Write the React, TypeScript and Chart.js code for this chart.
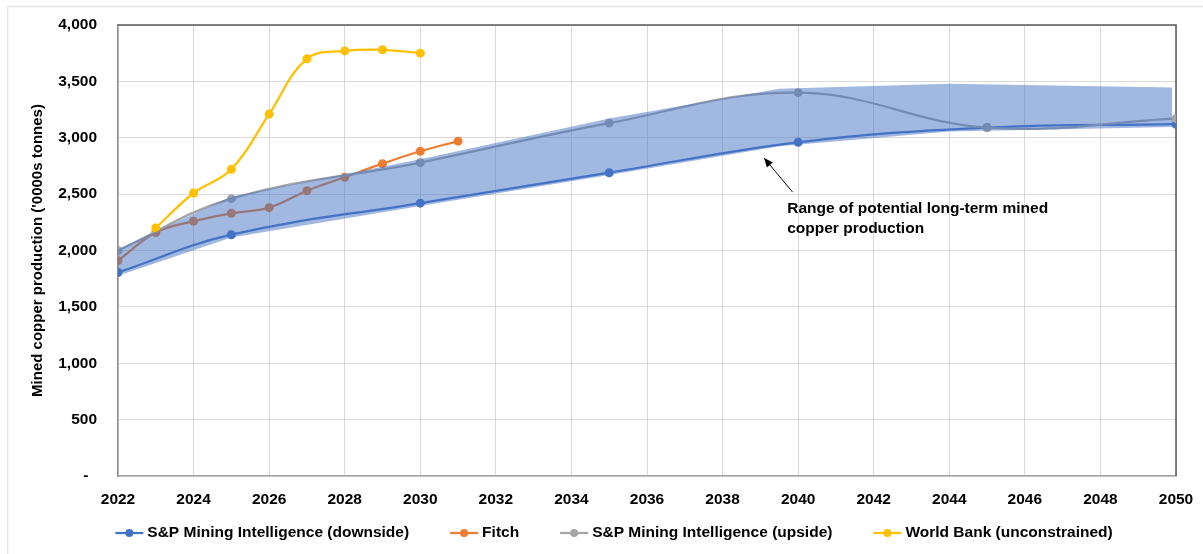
import React, { useEffect, useRef } from "react";
import { Chart, registerables } from "chart.js";

Chart.register(...registerables);

// ---- data ----
const downsideYears = [2022, 2025, 2030, 2035, 2040, 2045, 2050];
const downsideValues = [1805, 2140, 2420, 2690, 2960, 3090, 3120];

const fitchYears = [2022, 2023, 2024, 2025, 2026, 2027, 2028, 2029, 2030, 2031];
const fitchValues = [1910, 2160, 2260, 2330, 2380, 2530, 2650, 2770, 2880, 2970];

const upsideYears = [2022, 2025, 2030, 2035, 2040, 2045, 2050];
const upsideValues = [2000, 2460, 2780, 3130, 3400, 3090, 3170];

const worldBankYears = [2023, 2024, 2025, 2026, 2027, 2028, 2029, 2030];
const worldBankValues = [2200, 2510, 2720, 3210, 3700, 3770, 3780, 3750];

const bandYears = [2022, 2025, 2030, 2035, 2039.5, 2044, 2049.9];
const bandUpperValues = [2010, 2480, 2810, 3170, 3435, 3480, 3445];
const bandLowerValues = [1775, 2115, 2395, 2670, 2925, 3055, 3095];

const seriesLabels = [
  "S&P Mining Intelligence (downside)",
  "Fitch",
  "S&P Mining Intelligence (upside)",
  "World Bank (unconstrained)",
];
const seriesColors = ["#4472C4", "#ED7D31", "#A5A5A5", "#FFC000"];

const yAxisTitle = "Mined copper production ('0000s tonnes)";
const annotationLines = ["Range of potential long-term mined", "copper production"];
const annotationArrowTip = { x: 2039.1, y: 2820 };
const annotationArrowTail = { x: 2039.85, y: 2519 };
const annotationTextAnchor = { x: 2039.71, y1: 2368, y2: 2191 };

const FONT = '"Liberation Sans", Arial, sans-serif';

const pts = (xs: number[], ys: number[]) => xs.map((x, i) => ({ x, y: ys[i] }));

export default function App() {
  const ref = useRef<HTMLCanvasElement | null>(null);

  useEffect(() => {
    if (!ref.current) return;

    const framePlugin = {
      id: "frame",
      beforeDraw(chart: any) {
        const ctx = chart.ctx;
        ctx.save();
        ctx.fillStyle = "#ffffff";
        ctx.fillRect(0, 0, chart.width, chart.height);
        ctx.strokeStyle = "#E8E8E8";
        ctx.lineWidth = 1.5;
        ctx.strokeRect(7.5, 6.5, chart.width, chart.height);
        ctx.restore();
      },
      beforeDatasetsDraw(chart: any) {
        const { ctx, chartArea } = chart;
        ctx.save();
        ctx.strokeStyle = "#595959";
        ctx.lineWidth = 1.5;
        ctx.beginPath();
        ctx.moveTo(chartArea.left, chartArea.top);
        ctx.lineTo(chartArea.right, chartArea.top);
        ctx.lineTo(chartArea.right, chartArea.bottom);
        ctx.stroke();
        ctx.restore();
      },
      afterDraw(chart: any) {
        const { ctx } = chart;
        const xs = chart.scales.x;
        const ys = chart.scales.y;
        ctx.save();
        // annotation arrow
        const tx = xs.getPixelForValue(annotationArrowTip.x);
        const ty = ys.getPixelForValue(annotationArrowTip.y);
        const sx = xs.getPixelForValue(annotationArrowTail.x);
        const sy = ys.getPixelForValue(annotationArrowTail.y);
        ctx.strokeStyle = "#000";
        ctx.fillStyle = "#000";
        ctx.lineWidth = 1;
        ctx.beginPath();
        ctx.moveTo(sx, sy);
        ctx.lineTo(tx, ty);
        ctx.stroke();
        const ang = Math.atan2(ty - sy, tx - sx);
        const hl = 9;
        const hw = 4;
        ctx.beginPath();
        ctx.moveTo(tx, ty);
        ctx.lineTo(
          tx - hl * Math.cos(ang) + hw * Math.sin(ang),
          ty - hl * Math.sin(ang) - hw * Math.cos(ang)
        );
        ctx.lineTo(
          tx - hl * Math.cos(ang) - hw * Math.sin(ang),
          ty - hl * Math.sin(ang) + hw * Math.cos(ang)
        );
        ctx.closePath();
        ctx.fill();
        // annotation text
        ctx.font = `bold 15.5px ${FONT}`;
        ctx.textAlign = "left";
        ctx.textBaseline = "middle";
        ctx.fillStyle = "#000";
        const ax = xs.getPixelForValue(annotationTextAnchor.x);
        ctx.fillText(annotationLines[0], ax, ys.getPixelForValue(annotationTextAnchor.y1));
        ctx.fillText(annotationLines[1], ax, ys.getPixelForValue(annotationTextAnchor.y2));

        // legend
        const gap = 41;
        const markerW = 28;
        const textGap = 4;
        const widths = seriesLabels.map((l) => markerW + textGap + ctx.measureText(l).width);
        const total = widths.reduce((a, b) => a + b, 0) + gap * (seriesLabels.length - 1);
        let lx = 614 - total / 2;
        const ly = 533;
        seriesLabels.forEach((l, i) => {
          ctx.strokeStyle = seriesColors[i];
          ctx.fillStyle = seriesColors[i];
          ctx.lineWidth = 2.25;
          ctx.beginPath();
          ctx.moveTo(lx, ly);
          ctx.lineTo(lx + markerW, ly);
          ctx.stroke();
          ctx.beginPath();
          ctx.arc(lx + markerW / 2, ly, 4, 0, Math.PI * 2);
          ctx.fill();
          ctx.fillStyle = "#000";
          ctx.fillText(l, lx + markerW + textGap, ly);
          lx += widths[i] + gap;
        });
        ctx.restore();
      },
    };

    const lineDs = (i: number, xs: number[], ys: number[], order: number) => ({
      label: seriesLabels[i],
      data: pts(xs, ys),
      borderColor: seriesColors[i],
      backgroundColor: seriesColors[i],
      borderWidth: 2.25,
      pointRadius: 4.5,
      pointBorderWidth: 0,
      pointBackgroundColor: seriesColors[i],
      tension: 0.4,
      fill: false,
      order,
    });

    const chart = new Chart(ref.current, {
      type: "line",
      data: {
        datasets: [
          {
            label: "bandUpper",
            data: pts(bandYears, bandUpperValues),
            borderWidth: 0,
            borderColor: "rgba(0,0,0,0)",
            pointRadius: 0,
            backgroundColor: "rgba(68,114,196,0.5)",
            fill: "+1",
            tension: 0,
            order: 0,
          },
          {
            label: "bandLower",
            data: pts(bandYears, bandLowerValues),
            borderWidth: 0,
            borderColor: "rgba(0,0,0,0)",
            pointRadius: 0,
            fill: false,
            tension: 0,
            order: 0,
          },
          lineDs(0, downsideYears, downsideValues, 4),
          lineDs(1, fitchYears, fitchValues, 3),
          lineDs(2, upsideYears, upsideValues, 2),
          lineDs(3, worldBankYears, worldBankValues, 1),
        ] as any,
      },
      options: {
        animation: false,
        responsive: false,
        maintainAspectRatio: false,
        layout: { padding: { top: 25, right: 27, left: 0, bottom: 0 } },
        plugins: {
          legend: { display: false },
          tooltip: { enabled: false },
        },
        scales: {
          x: {
            type: "linear",
            min: 2022,
            max: 2050,
            afterFit: (s: any) => {
              s.height = 78;
              s.paddingLeft = 0;
              s.paddingRight = 0;
            },
            ticks: {
              stepSize: 2,
              padding: 14,
              color: "#000",
              font: { family: FONT, size: 15.5, weight: "bold" },
              callback: (v: any) => String(v),
              maxRotation: 0,
              autoSkip: false,
            },
            grid: { color: "#D9D9D9", lineWidth: 1, drawTicks: false },
            border: { display: true, color: "#A6A6A6", width: 1.5 },
          },
          y: {
            type: "linear",
            min: 0,
            max: 4000,
            afterFit: (s: any) => {
              s.width = 118;
              s.paddingTop = 0;
              s.paddingBottom = 0;
            },
            ticks: {
              stepSize: 500,
              padding: 21,
              color: "#000",
              font: { family: FONT, size: 15.5, weight: "bold" },
              callback: (v: any) =>
                Number(v) === 0 ? "-  " : Number(v).toLocaleString("en-US"),
            },
            grid: { color: "#D9D9D9", lineWidth: 1, drawTicks: false },
            border: { display: true, color: "#8C8C8C", width: 1.5 },
            title: {
              display: true,
              text: yAxisTitle,
              color: "#000",
              font: { family: FONT, size: 15, weight: "bold" },
              padding: { top: 29, bottom: 0 },
            },
          },
        },
      },
      plugins: [framePlugin],
    });

    return () => chart.destroy();
  }, []);

  return (
    <div style={{ position: "absolute", left: 0, top: 0, width: 1203, height: 554 }}>
      <canvas ref={ref} width={1203} height={554} style={{ display: "block" }} />
    </div>
  );
}
